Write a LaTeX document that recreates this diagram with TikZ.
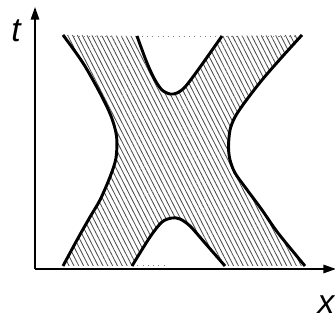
\documentclass[tikz,border=0pt]{standalone}
\usepackage{fontspec}
\setmainfont{Liberation Sans}
\usetikzlibrary{arrows.meta, patterns.meta}

% curve points, in the order the hatched region runs round
\def\leftouter{(6.3,28.5) (8.3,25.7) (10,22.7) (11.1,20.4) (11.65,18.4) (11.6,16.2) (11,14.3) (10,12) (9,10.3) (7.7,8) (6.3,5.4)}
\def\botinner{(13.2,5.4) (15,8.3) (16.2,9.8) (17.2,10.2) (18,10.1) (19,9.4) (20.5,7.7) (22.5,5.4)}
\def\rightouter{(30.5,5.4) (27.8,8.7) (26.2,11) (24.5,13.3) (23.5,14.7) (23,16) (22.85,17.3) (23,19) (23.5,20.3) (24.5,21.8) (26.2,24) (28.2,26.3) (30.2,28.5)}
\def\topinner{(22.2,28.4) (19.8,25) (18.5,23.3) (17.7,22.7) (17,22.6) (16.2,23) (15.5,24) (14.7,25.7) (13.7,28.4)}

\begin{document}
\begin{tikzpicture}[x=1.672mm, y=1.672mm,
  axis/.style={line width=0.8pt, -{Triangle[length=6pt, width=4pt]}},
  curve/.style={line width=1.4pt, line join=round},
  hatch/.style={pattern={Lines[angle=-63, distance=2.05pt, line width=0.4pt]}, pattern color=black!70},
  edge/.style={dotted, gray, line width=0.5pt},
  lbl/.style={font=\fontsize{16}{18}\selectfont\itshape, inner sep=0pt}
]
\useasboundingbox (0,0) rectangle (33.5,32);

% Axes
\coordinate (O) at (3.5,5.1);
\coordinate (tEnd) at (3.5,31.3);
\coordinate (xEnd) at (33.6,5.1);

% Hatched region
\fill[hatch] plot[smooth] coordinates \leftouter
  -- plot[smooth] coordinates \botinner
  -- plot[smooth] coordinates \rightouter
  -- plot[smooth] coordinates \topinner -- cycle;

% Dotted top and bottom edges
\draw[edge] (6.3,28.35) -- (30.2,28.35);
\draw[edge] (13.2,5.45) -- (16.6,5.45);

% Curves
\draw[curve] plot[smooth] coordinates \leftouter;
\draw[curve] plot[smooth] coordinates \rightouter;
\draw[curve] plot[smooth] coordinates \topinner;
\draw[curve] plot[smooth] coordinates \botinner;

\draw[axis] (O) -- (tEnd);
\draw[axis] (O) -- (xEnd);

% Labels
\node[lbl] (tLabel) at (1.6,28.9) {t};
\node[lbl] (xLabel) at (32.6,1.5) {x};
\end{tikzpicture}
\end{document}
